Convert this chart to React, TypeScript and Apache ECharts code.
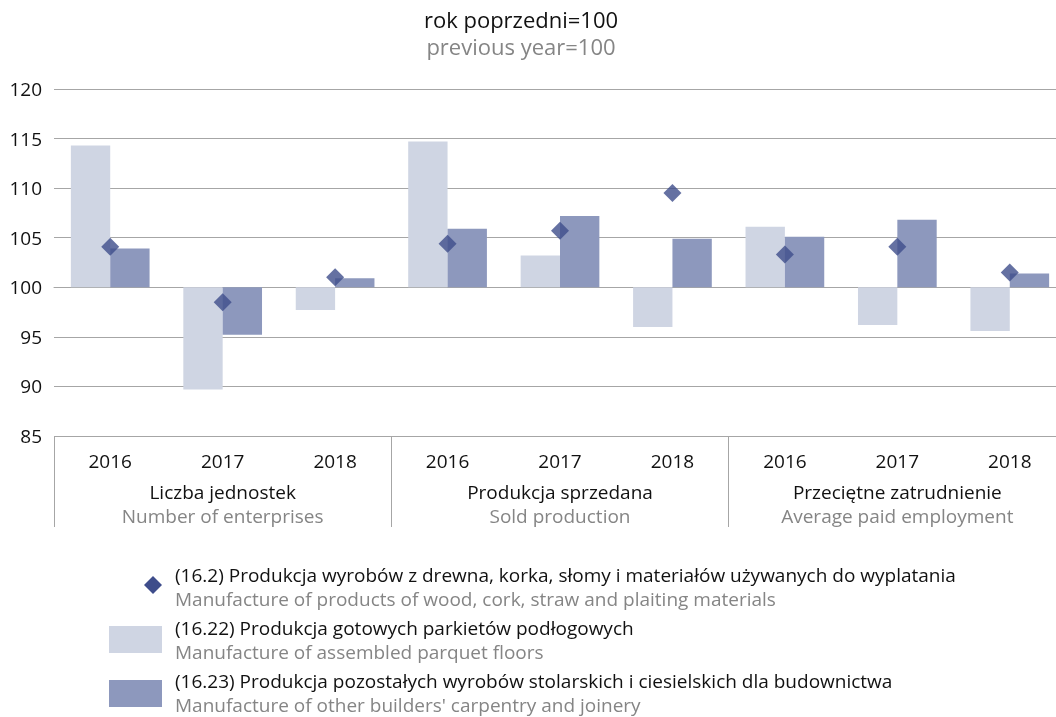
import React, { useEffect, useRef } from "react";
import * as echarts from "echarts";

const categories = ["2016", "2017", "2018", "2016", "2017", "2018", "2016", "2017", "2018"];
const groupsPl = ["Liczba jednostek", "Produkcja sprzedana", "Przeciętne zatrudnienie"];
const groupsEn = ["Number of enterprises", "Sold production", "Average paid employment"];

// (16.2) diamonds
const wood = [104.1, 98.5, 101.0, 104.4, 105.7, 109.5, 103.3, 104.1, 101.5];
// (16.22) light bars
const parquet = [114.3, 89.7, 97.7, 114.7, 103.2, 96.0, 106.1, 96.2, 95.6];
// (16.23) dark bars
const carpentry = [103.9, 95.2, 100.9, 105.9, 107.2, 104.9, 105.1, 106.8, 101.4];

const BASE = 100;
const yMin = 85;
const yMax = 120;

const titlePl = "rok poprzedni=100";
const titleEn = "previous year=100";

const legendItems = [
  { pl: "(16.2) Produkcja wyrobów z drewna, korka, słomy i materiałów używanych do wyplatania", en: "Manufacture of products of wood, cork, straw and plaiting materials" },
  { pl: "(16.22) Produkcja gotowych parkietów podłogowych", en: "Manufacture of assembled parquet floors" },
  { pl: "(16.23) Produkcja pozostałych wyrobów stolarskich i ciesielskich dla budownictwa", en: "Manufacture of other builders' carpentry and joinery" },
];

const LIGHT = "#cfd5e3";
const DARK = "#8d98bd";
const DIAMOND = "#3e4d8b";
const GRID = "#a6a6a6";
const GRAY_TEXT = "#858585";
const FONT = "'Open Sans', 'Noto Sans', sans-serif";
const FS = 19;

export default function App() {
  const ref = useRef<HTMLDivElement>(null);
  useEffect(() => {
    if (!ref.current) return;
    const chart = echarts.init(ref.current, undefined, { renderer: "svg" });
    chart.setOption({
      animation: false,
      textStyle: { fontFamily: FONT },
      title: [
        {
          text: titlePl,
          left: 521,
          top: 5,
          padding: 0,
          textAlign: "center",
          textStyle: { fontFamily: FONT, fontSize: 22, fontWeight: "normal", color: "#111", lineHeight: 27 },
        },
        {
          text: titleEn,
          left: 521,
          top: 32,
          padding: 0,
          textAlign: "center",
          textStyle: { fontFamily: FONT, fontSize: 22, fontWeight: "normal", color: GRAY_TEXT, lineHeight: 27 },
        },
      ],
      grid: { left: 54, top: 89, bottom: 281, width: 1012, containLabel: false, outerBoundsMode: "none" },
      xAxis: [
        {
          type: "category",
          data: categories,
          axisLine: { show: true, lineStyle: { color: GRID, width: 1 } },
          axisTick: { show: false },
          axisLabel: { color: "#111", fontSize: FS, fontFamily: FONT, margin: 15, interval: 0 },
        },
        {
          type: "category",
          position: "bottom",
          data: groupsPl,
          axisLine: { show: false },
          axisTick: { show: true, length: 91, lineStyle: { color: GRID, width: 1 } },
          axisLabel: {
            interval: 0,
            margin: 44,
            formatter: (v: string, i: number) => `{a|${v}}\n{b|${groupsEn[i]}}`,
            rich: {
              a: { fontSize: FS, color: "#111", fontFamily: FONT, lineHeight: 24 },
              b: { fontSize: FS, color: GRAY_TEXT, fontFamily: FONT, lineHeight: 24 },
            },
          },
        },
      ],
      yAxis: [
        {
          type: "value",
          min: yMin,
          max: yMax,
          interval: 5,
          axisLine: { show: false },
          axisTick: { show: false },
          axisLabel: { color: "#111", fontSize: FS, fontFamily: FONT, margin: 12 },
          splitLine: { show: true, lineStyle: { color: GRID, width: 1 } },
        },
        {
          type: "value",
          min: yMin - BASE,
          max: yMax - BASE,
          show: false,
          splitLine: { show: false },
        },
      ],
      series: [
        {
          name: "16.22",
          type: "bar",
          xAxisIndex: 0,
          yAxisIndex: 1,
          data: parquet.map((v) => +(v - BASE).toFixed(2)),
          itemStyle: { color: LIGHT },
          barGap: "0%",
          barCategoryGap: "30%",
        },
        {
          name: "16.23",
          type: "bar",
          xAxisIndex: 0,
          yAxisIndex: 1,
          data: carpentry.map((v) => +(v - BASE).toFixed(2)),
          itemStyle: { color: DARK },
          barGap: "0%",
          barCategoryGap: "30%",
        },
        {
          name: "16.2",
          type: "scatter",
          xAxisIndex: 0,
          yAxisIndex: 0,
          symbol: "diamond",
          symbolSize: [18, 18],
          data: wood,
          itemStyle: { color: DIAMOND },
          z: 5,
        },
      ],
      graphic: [
        { type: "polygon", shape: { points: [[153, 576], [162, 585], [153, 594], [144, 585]] }, style: { fill: DIAMOND } },
        { type: "rect", shape: { x: 109, y: 626, width: 53, height: 27 }, style: { fill: LIGHT } },
        { type: "rect", shape: { x: 109, y: 680, width: 53, height: 27 }, style: { fill: DARK } },
        ...legendItems.map((it, i) => {
          const top = [563, 616, 669][i];
          return {
            type: "text",
            x: 175,
            y: top,
            style: {
              text: `{a|${it.pl}}\n{b|${it.en}}`,
              verticalAlign: "top",
              rich: {
                a: { fontSize: FS, fontFamily: FONT, fill: "#111", lineHeight: 24 },
                b: { fontSize: FS, fontFamily: FONT, fill: GRAY_TEXT, lineHeight: 24 },
              },
            },
          };
        }),
      ],
    });
    return () => chart.dispose();
  }, []);
  return <div ref={ref} style={{ position: "fixed", left: 0, top: 0, width: 1056, height: 717 }} />;
}
